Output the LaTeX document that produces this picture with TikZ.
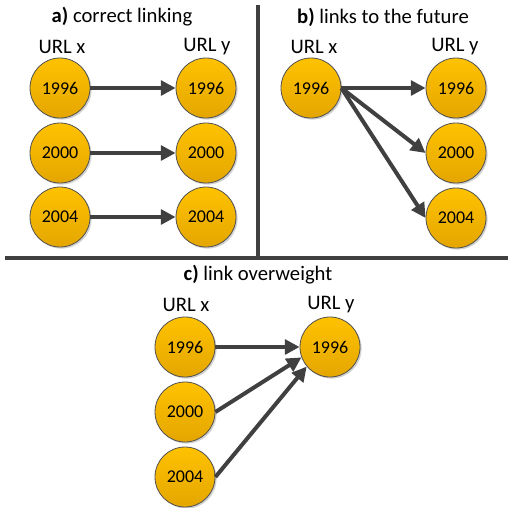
\documentclass[tikz,border=0pt]{standalone}
\usepackage{fontspec}
\setmainfont{Carlito}
\usetikzlibrary{arrows.meta,shadows}
\definecolor{ctop}{RGB}{255,194,0}
\definecolor{cbot}{RGB}{228,166,0}
\definecolor{cedge}{RGB}{80,80,80}
\definecolor{arr}{RGB}{64,64,64}
\tikzset{
  yearnode/.style={circle, minimum size=45pt, inner sep=0pt, draw=cedge, line width=0.6pt,
    top color=ctop, bottom color=cbot, font=\fontsize{13.5}{15}\selectfont,
    drop shadow={shadow xshift=1.2pt, shadow yshift=-1.2pt, fill=black, opacity=0.18}},
  hdr/.style={font=\fontsize{15.5}{17}\selectfont, inner sep=0pt},
  ttl/.style={font=\fontsize{15.5}{17}\selectfont, inner sep=0pt},
  link/.style={draw=arr, line width=3pt, -{Triangle[length=11pt,width=11pt]}, shorten >=0pt},
  sep/.style={draw=arr, line width=3pt}
}
\begin{document}
\begin{tikzpicture}[x=0.75pt,y=-0.75pt]
\useasboundingbox (0,0) rectangle (508,508);
% separators
\coordinate (vt) at (258,5);
\coordinate (vb) at (258,258);
\coordinate (hl) at (5,258);
\coordinate (hr) at (508,258);
\draw[sep] (vt) -- (vb);
\draw[sep] (hl) -- (hr);
% panel a
\node[ttl] (ta) at (122,17) {\textbf{a)} correct linking};
\node[hdr] (ax) at (62,47) {URL x};
\node[hdr] (ay) at (207,47) {URL y};
\node[yearnode] (a1) at (60,88) {1996};
\node[yearnode] (a2) at (60,153) {2000};
\node[yearnode] (a3) at (60,217) {2004};
\node[yearnode] (b1) at (206,88) {1996};
\node[yearnode] (b2) at (206,153) {2000};
\node[yearnode] (b3) at (206,217) {2004};
\draw[link] (a1.east) -- (b1.west);
\draw[link] (a2.east) -- (b2.west);
\draw[link] (a3.east) -- (b3.west);
% panel b
\node[ttl] (tb) at (383,17) {\textbf{b)} links to the future};
\node[hdr] (bx) at (314,47) {URL x};
\node[hdr] (by) at (455,47) {URL y};
\node[yearnode] (c1) at (311,88) {1996};
\node[yearnode] (d1) at (456,88) {1996};
\node[yearnode] (d2) at (456,153) {2000};
\node[yearnode] (d3) at (456,218) {2004};
\draw[link] (c1.east) -- (d1.west);
\draw[link] (c1.east) -- (d2.west);
\draw[link] (c1.east) -- (d3.west);
% panel c
\node[ttl] (tc) at (258,275) {\textbf{c)} link overweight};
\node[hdr] (cx) at (186,305) {URL x};
\node[hdr] (cy) at (331,305) {URL y};
\node[yearnode] (e1) at (185,347) {1996};
\node[yearnode] (e2) at (185,412) {2000};
\node[yearnode] (e3) at (185,477) {2004};
\node[yearnode] (f1) at (330,347) {1996};
\draw[link] (e1.east) -- (f1.west);
\draw[link] (e2.east) -- (f1.200);
\draw[link] (e3.east) -- (f1.220);
\end{tikzpicture}
\end{document}
